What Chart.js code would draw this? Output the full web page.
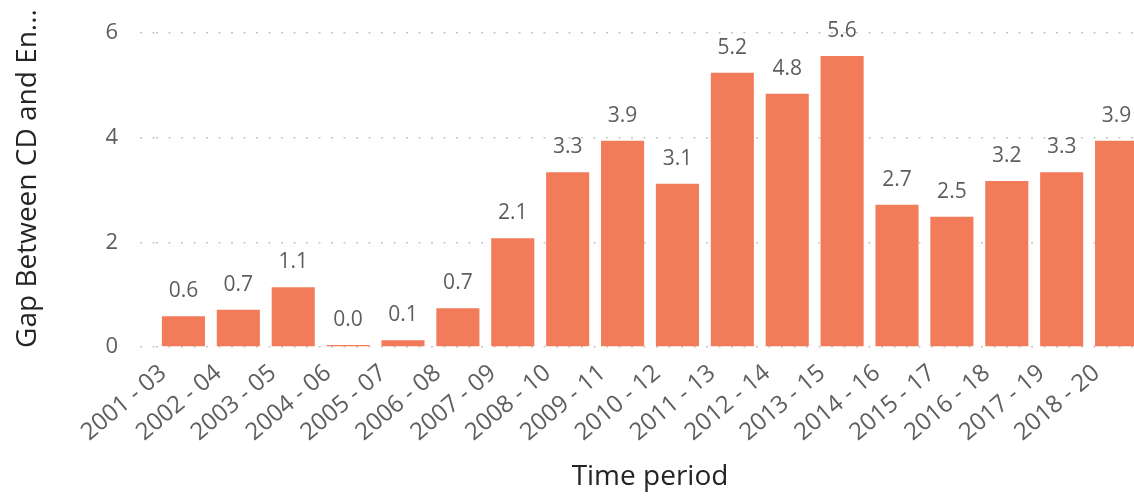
<!DOCTYPE html>
<html>
<head>
<meta charset="utf-8">
<script src="https://cdn.jsdelivr.net/npm/chart.js@4.4.1/dist/chart.umd.min.js"></script>
<style>
  html, body { margin: 0; padding: 0; background: #ffffff; overflow: hidden; }
  #wrap { width: 1150px; height: 497px; }
</style>
</head>
<body>
<div id="wrap"><canvas id="chart" width="1150" height="497"></canvas></div>
<script>
// Three-year rolling periods
const periods = [
  '2001 - 03', '2002 - 04', '2003 - 05', '2004 - 06', '2005 - 07', '2006 - 08',
  '2007 - 09', '2008 - 10', '2009 - 11', '2010 - 12', '2011 - 13', '2012 - 14',
  '2013 - 15', '2014 - 16', '2015 - 17', '2016 - 18', '2017 - 19', '2018 - 20'
];

// Gap between CD and England for each period
const gapValues = [
  0.59, 0.71, 1.14, 0.04, 0.13, 0.74,
  2.08, 3.34, 3.94, 3.12, 5.24, 4.84,
  5.56, 2.72, 2.49, 3.17, 3.34, 3.94
];

// Y axis range and tick values shown
const yMin = 0;
const yMax = 6.44;
const yTicks = [0, 2, 4, 6];

const axisTitleY = 'Gap Between CD and En...';
const axisTitleX = 'Time period';

const labelGrey = '#605E5C';
const titleDark = '#252423';
const barColor = '#F27B5A';
const gridGrey = '#C8C6C4';
const dots = [2, 10.5];

// Value labels above each bar
const valueLabels = {
  id: 'valueLabels',
  afterDatasetsDraw(chart) {
    const ctx = chart.ctx;
    const meta = chart.getDatasetMeta(0);
    ctx.save();
    ctx.font = '21px "Open Sans"';
    ctx.fillStyle = labelGrey;
    ctx.textAlign = 'center';
    ctx.textBaseline = 'alphabetic';
    meta.data.forEach((bar, i) => {
      const v = chart.data.datasets[0].data[i];
      ctx.fillText(v.toFixed(1), bar.x, bar.y - 19);
    });
    ctx.restore();
  }
};

new Chart(document.getElementById('chart'), {
  type: 'bar',
  data: {
    labels: periods,
    datasets: [{
      data: gapValues,
      backgroundColor: barColor,
      borderWidth: 0,
      categoryPercentage: 1,
      barPercentage: 0.785
    }]
  },
  options: {
    responsive: false,
    animation: false,
    devicePixelRatio: 1,
    layout: { padding: { top: 10, right: 6, left: 0, bottom: 0 } },
    plugins: {
      legend: { display: false },
      tooltip: { enabled: false }
    },
    scales: {
      x: {
        offset: true,
        grid: { display: false, drawTicks: false },
        border: { display: false },
        ticks: {
          autoSkip: false,
          maxRotation: 40,
          minRotation: 40,
          padding: 12,
          labelOffset: -20,
          color: labelGrey,
          font: { family: 'Open Sans', size: 24 }
        },
        title: {
          display: true,
          text: axisTitleX,
          color: titleDark,
          font: { family: 'Open Sans', size: 28 },
          padding: { top: 0, bottom: 3 }
        },
        afterFit(scale) { scale.height = 150; }
      },
      y: {
        bounds: 'data',
        min: yMin,
        max: yMax,
        afterBuildTicks(scale) {
          scale.ticks = yTicks.map(v => ({ value: v }));
        },
        grid: {
          color: gridGrey,
          lineWidth: 1.5,
          drawTicks: true,
          tickLength: 16,
          tickColor: gridGrey,
          tickWidth: 1.5,
          tickBorderDash: dots
        },
        border: { display: false, dash: dots },
        ticks: {
          padding: 22,
          color: labelGrey,
          font: { family: 'Open Sans', size: 22 }
        },
        title: {
          display: true,
          text: axisTitleY,
          color: titleDark,
          font: { family: 'Open Sans', size: 28 },
          padding: { top: 11, bottom: 0 }
        },
        afterFit(scale) {
          scale.width = 156;
          scale.paddingTop = 0;
          scale.paddingBottom = 0;
        }
      }
    }
  },
  plugins: [valueLabels]
});
</script>
</body>
</html>
